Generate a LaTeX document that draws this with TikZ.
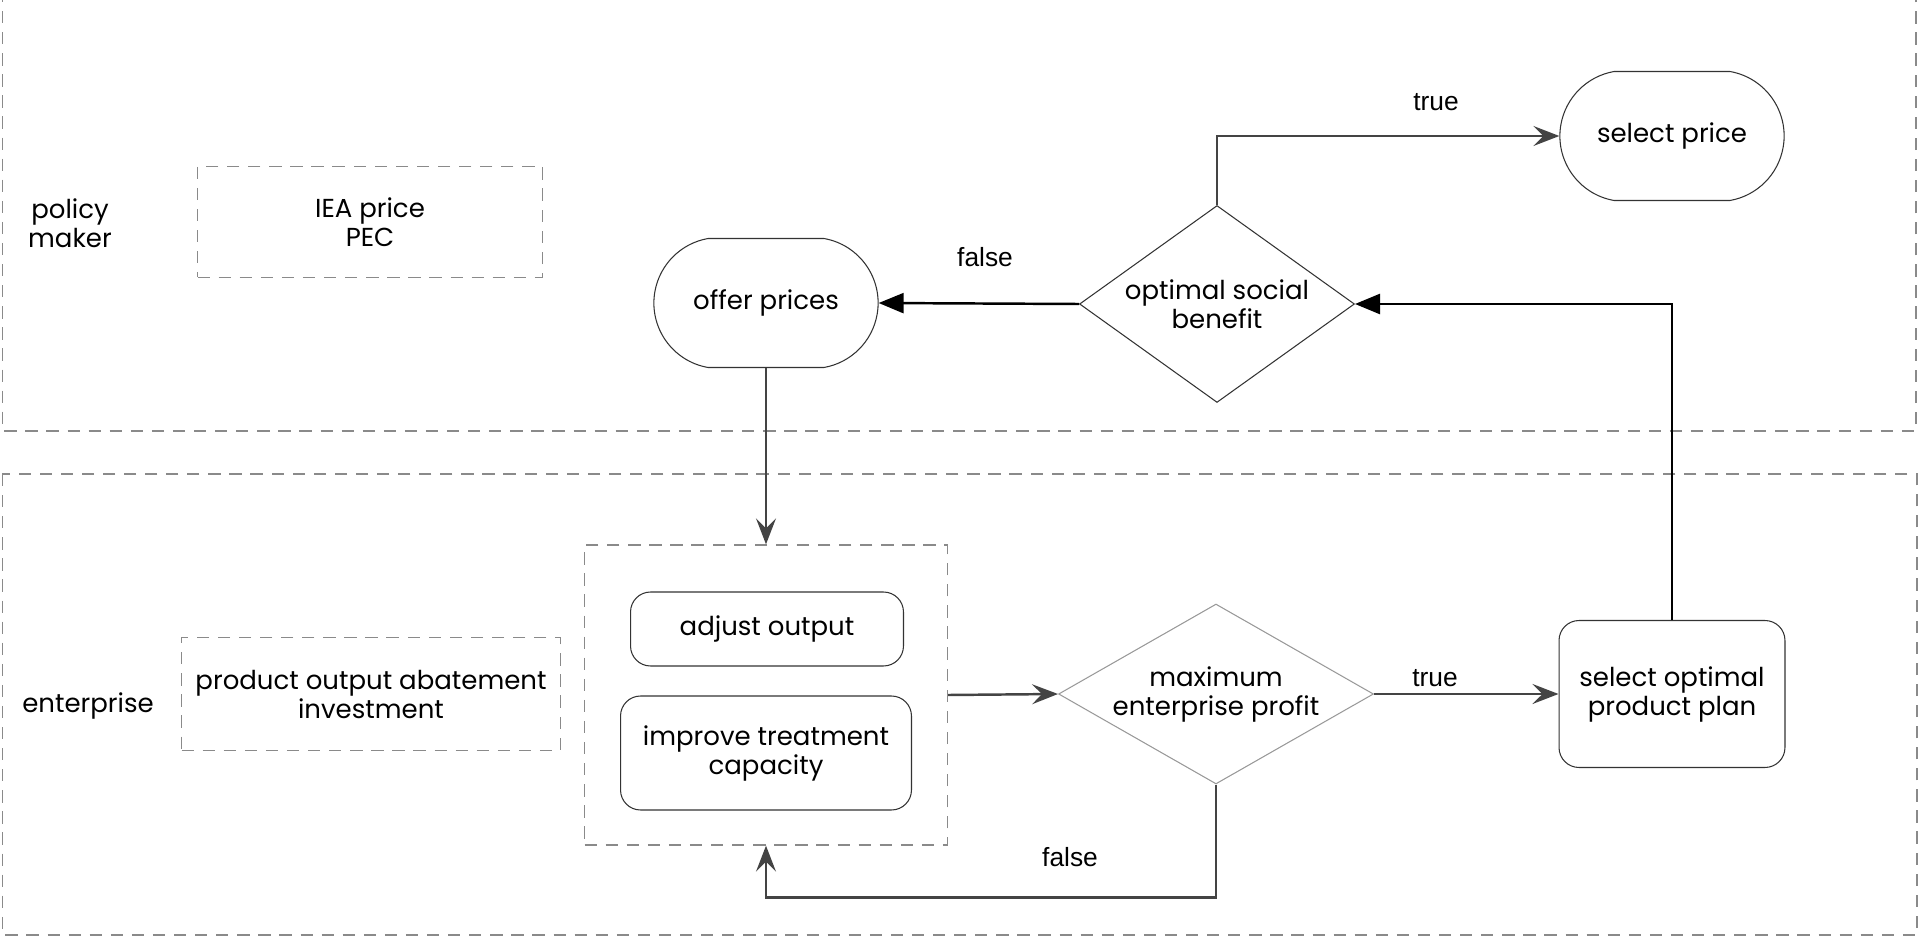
\documentclass[tikz,border=0pt]{standalone}
\usepackage{fontspec}
\setmainfont{Poppins}
\newfontfamily\labelfont{Liberation Sans}
\usetikzlibrary{shapes}
\usetikzlibrary{arrows.meta}

\definecolor{linegray}{HTML}{444444}
\definecolor{dashgray}{HTML}{8A8A8A}

\tikzset{
  lane/.style={draw=dashgray, line width=0.8pt, dash pattern=on 7pt off 5pt},
  infobox/.style={draw=dashgray, line width=0.7pt, dash pattern=on 7pt off 5pt, align=center},
  groupbox/.style={draw=dashgray, line width=0.8pt, dash pattern=on 7pt off 5pt, minimum width=7.26cm, minimum height=6cm},
  terminal/.style={draw=black!80, line width=0.6pt, rounded rectangle, rounded rectangle arc length=160, minimum width=4.72cm, minimum height=2.58cm, align=center},
  stepbox/.style={draw=black!80, line width=0.6pt, rounded corners=0.4cm, align=center},
  decision/.style={draw=black!80, line width=0.6pt, diamond, inner sep=0pt, align=center},
  lanelabel/.style={align=center},
  edgelabel/.style={font=\fontsize{15}{17}\selectfont\labelfont},
  flow/.style={draw=linegray, line width=1.4pt, -{Stealth[length=0.52cm, width=0.4cm, inset=0.2cm]}},
  back/.style={draw=black, line width=1.4pt, -{Triangle[length=0.5cm, width=0.4cm]}}
}

\begin{document}
\begin{tikzpicture}[x=0.02cm, y=-0.02cm, every node/.style={font=\fontsize{14.8}{16.5}\selectfont}]
\useasboundingbox (0,0) rectangle (1921,939);

% lanes
\draw[lane] (2.5,-10) rectangle (1916,431);
\draw[lane] (2.5,474) rectangle (1917,935);

% policy maker
\node[lanelabel] (policy) at (70,223) {policy\\maker};
\node[infobox, minimum width=6.9cm, minimum height=2.22cm] (iea) at (370,222) {IEA price\\PEC};
\node[terminal] (offer) at (766,303) {offer prices};
\node[decision, aspect=1.4, minimum width=5.5cm, minimum height=3.94cm] (social) at (1217,304) {optimal social\\benefit};
\node[terminal] (select) at (1672,136) {select price};

% enterprise
\node[lanelabel] (enterprise) at (88,706) {enterprise};
\node[infobox, minimum width=7.58cm, minimum height=2.26cm] (product) at (371,694) {product output abatement\\investment};
\node[groupbox] (group) at (766,695) {};
\node[stepbox, minimum width=5.46cm, minimum height=1.48cm] (adjust) at (767,629) {adjust output};
\node[stepbox, minimum width=5.82cm, minimum height=2.28cm] (improve) at (766,753) {improve treatment\\capacity};
\node[decision, draw=black!40, aspect=1.75, minimum width=6.3cm, minimum height=3.6cm] (profit) at (1216,694) {maximum\\enterprise profit};
\node[stepbox, minimum width=4.52cm, minimum height=2.94cm] (plan) at (1672,694) {select optimal\\product plan};

% labels
\node[edgelabel] (true1) at (1436,102) {true};
\node[edgelabel] (false1) at (985,257) {false};
\node[edgelabel] (true2) at (1435,678) {true};
\node[edgelabel] (false2) at (1070,857) {false};

% connectors
\draw[flow] (social.north) |- (select.west);
\draw[back] (social.west) -- (offer.east);
\draw[back] (plan.north) |- (social.east);
\draw[flow] (offer.south) -- (group.north);
\draw[flow] (group.east) -- (profit.west);
\draw[flow] (profit.east) -- (plan.west);
\draw[flow] (profit.south) -- ++(0,113) -| (group.south);
\end{tikzpicture}
\end{document}
